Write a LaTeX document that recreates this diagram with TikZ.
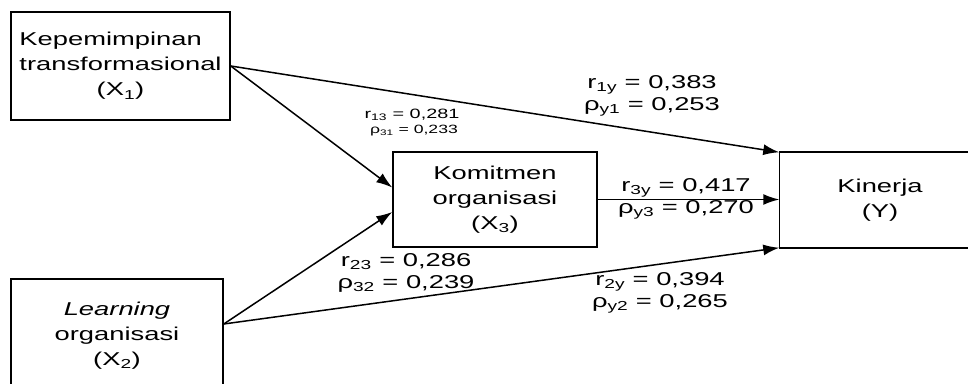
\documentclass[tikz,border=0pt]{standalone}
\usepackage{fontspec}
\setmainfont[FakeStretch=1.47]{Liberation Sans}
\usetikzlibrary{arrows.meta, calc, positioning}

\begin{document}
\begin{tikzpicture}[x=1pt,y=1pt,>={Latex[length=16pt,width=11pt]},line width=1.5pt,
	every node/.style={font=\fontsize{18.6}{25}\selectfont},
	var/.style={draw,rectangle,inner sep=0pt,align=center},
	coef/.style={align=center,inner sep=0pt,font=\fontsize{18.6}{22}\selectfont}]
	\useasboundingbox (0,0) rectangle (968,383);
	\node[var, minimum width=219pt, minimum height=108pt] (x1) at (120.5,317)
		{\begin{tabular}{@{}l@{}}Kepemimpinan\\transformasional\\\multicolumn{1}{@{}c@{}}{(X\textsubscript{1})}\end{tabular}};
	\node[var, minimum width=212pt, minimum height=113pt] (x2) at (117,47.5)
		{\textit{Learning}\\organisasi\\(X\textsubscript{2})};
	\node[var, minimum width=204pt, minimum height=95pt] (x3) at (495,183.5)
		{Komitmen\\organisasi\\(X\textsubscript{3})};
	\node[var, draw=none, minimum width=200pt, minimum height=94pt] (y) at (880,183)
		{Kinerja\\(Y)};
	% kotak Y terpotong di tepi kanan
	\draw (y.north west) ++(220,0) -- (y.north west) -- (y.south west) -- ++(220,0);
	% koefisien jalur
	\node[coef] (c1y) at (652,287.5) {r\textsubscript{1y} = 0,383\\ρ\textsubscript{y1} = 0,253};
	\node[coef, font=\fontsize{13.5}{16}\selectfont] (c13) at (412,268) {r\textsubscript{13} = 0,281};
	\node[coef, font=\fontsize{12}{14}\selectfont] (c31) at (414,252) {ρ\textsubscript{31} = 0,233};
	\node[coef] (c3y) at (686,184.5) {r\textsubscript{3y} = 0,417\\ρ\textsubscript{y3} = 0,270};
	\node[coef] (c23) at (406,110.5) {r\textsubscript{23} = 0,286\\ρ\textsubscript{32} = 0,239};
	\node[coef] (c2y) at (660,90.5) {r\textsubscript{2y} = 0,394\\ρ\textsubscript{y2} = 0,265};
	\path[->]
		(x1.east)
			edge (y.north west)
			edge ([yshift=12pt]x3.west)
		([yshift=11.5pt]x2.east)
			edge ([yshift=-12.5pt]x3.west)
			edge (y.south west)
		(x3.east)
			edge (x3.east -| y.west);
\end{tikzpicture}
\end{document}
